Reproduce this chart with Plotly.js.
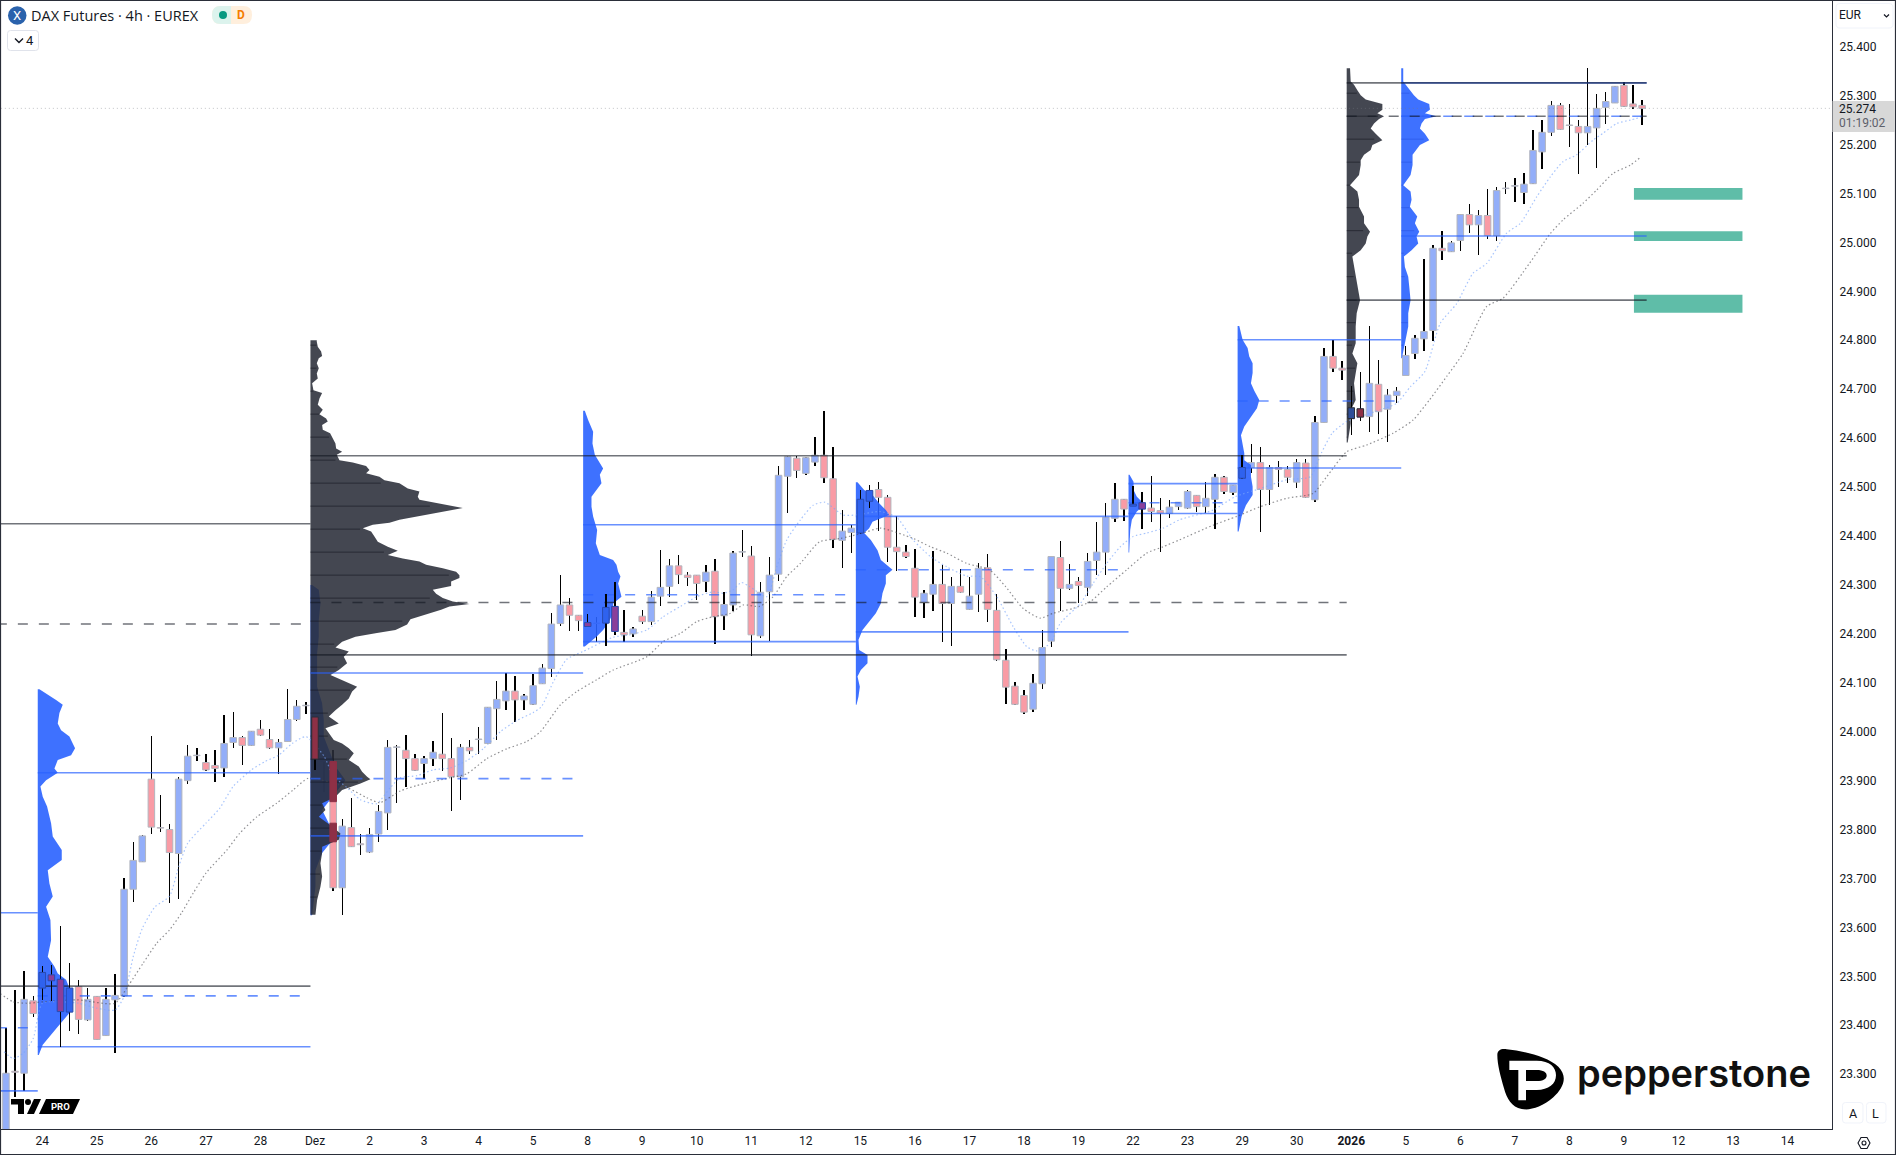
<!DOCTYPE html>
<html><head><meta charset="utf-8">
<script src="https://cdn.plot.ly/plotly-3.0.1.min.js"></script>
<style>html,body{margin:0;padding:0;background:#fff;overflow:hidden}</style>
</head><body><div id="chart" style="width:1896px;height:1155px"></div>
<script>
// ---- candles (first bar index = -4, 6 bars per day) ----
const firstBar = -4;
const opens = [23170,23306,23302,23450,
23476,23503,23494,23427,23479,23411,23459,23379,23452,23460,
23678,23734,23903,23804,23800,23751,23900,23951,23937,23931,
23926,23978,23988,23972,24005,23984,23967,23980,24025,24053,
24030,23941,23939,23681,23804,23771,23754,23791,23834,23968,
23962,23945,23935,23945,23954,23945,23908,23968,23984,23976,
24047,24063,24083,24065,24056,24098,24129,24221,24259,24238,
24223,24222,24222,24256,24203,24200,24236,24225,24277,24297,
24339,24320,24320,24307,24328,24237,24259,24367,24359,24196,
24286,24322,24522,24559,24528,24551,24565,24517,24391,24407,
24406,24471,24495,24479,24377,24367,24334,24264,24281,24301,
24262,24297,24250,24281,24335,24248,24146,24093,24074,24046,
24098,24185,24356,24293,24307,24295,24350,24367,24436,24475,
24461,24468,24457,24452,24446,24460,24457,24483,24460,24475,
24520,24489,24518,24540,24550,24495,24540,24536,24510,24549,
24474,24632,24767,24743,24640,24660,24644,24710,24659,24687,
24728,24773,24803,24820,24988,24981,25004,25057,25036,25055,
25014,25110,25115,25102,25120,25185,25225,25280,25240,25237,
25224,25234,25276,25285,25321,25283,25280];
const highs = [23395,23472,23511,23460,
23521,23523,23603,23527,23493,23476,23459,23476,23505,23700,
23774,23789,23991,23871,23811,23907,23973,23967,23954,23963,
24034,24040,23991,24001,24024,24005,23986,24087,24065,24061,
24031,23942,23962,23822,23865,23791,23804,23851,23983,23972,
23994,23954,23950,23980,24038,23987,23975,23983,24010,24051,
24104,24121,24114,24078,24117,24138,24242,24320,24274,24238,
24241,24234,24282,24305,24249,24213,24249,24287,24371,24353,
24361,24326,24320,24341,24353,24285,24369,24412,24380,24305,
24357,24543,24564,24564,24561,24602,24656,24582,24453,24423,
24493,24504,24510,24484,24440,24382,24373,24290,24369,24341,
24317,24332,24317,24344,24363,24281,24170,24101,24085,24118,
24208,24358,24390,24343,24317,24365,24429,24468,24509,24475,
24502,24489,24523,24477,24474,24469,24494,24483,24510,24527,
24523,24504,24566,24589,24581,24545,24553,24543,24557,24557,
24645,24784,24801,24757,24707,24736,24829,24760,24700,24704,
24788,24811,24967,24995,25023,25002,25059,25078,25066,25109,
25113,25123,25132,25142,25230,25250,25289,25284,25283,25250,
25356,25303,25307,25319,25328,25322,25292];
const lows = [23160,23254,23266,23416,
23452,23450,23356,23389,23382,23409,23370,23378,23343,23457,
23651,23734,23791,23794,23649,23659,23893,23941,23920,23898,
23908,23967,23932,23971,23991,23964,23914,23979,24021,24036,
23922,23877,23674,23626,23764,23748,23753,23775,23799,23854,
23886,23919,23904,23929,23920,23838,23861,23954,23954,23975,
23984,24044,24019,24044,24055,24097,24111,24216,24205,24206,
24215,24184,24176,24198,24184,24194,24220,24218,24256,24276,
24302,24297,24269,24285,24180,24208,24246,24358,24155,24192,
24185,24308,24447,24519,24525,24543,24508,24376,24335,24365,
24404,24458,24411,24346,24329,24356,24235,24233,24247,24184,
24176,24283,24249,24245,24225,24145,24057,24055,24036,24041,
24088,24174,24247,24290,24264,24277,24320,24320,24429,24431,
24461,24415,24429,24368,24437,24453,24455,24449,24446,24415,
24486,24484,24517,24528,24409,24464,24501,24508,24498,24478,
24470,24630,24735,24718,24606,24634,24613,24608,24593,24672,
24728,24762,24778,24799,24964,24980,24983,25020,24974,25008,
25002,25099,25083,25079,25119,25150,25217,25230,25196,25140,
25199,25152,25243,25284,25277,25273,25239];
const closes = [23302,23304,23453,23424,
23508,23491,23428,23476,23412,23453,23371,23453,23461,23678,
23737,23787,23805,23803,23753,23903,23950,23952,23922,23925,
23976,23988,23972,24001,23993,23967,23978,24025,24052,24054,
23944,23939,23681,23807,23765,23769,23790,23837,23968,23969,
23945,23921,23945,23958,23945,23908,23968,23961,23985,24050,
24066,24083,24065,24073,24094,24130,24220,24259,24238,24227,
24215,24221,24254,24205,24198,24210,24225,24275,24295,24339,
24321,24315,24303,24326,24235,24260,24365,24368,24198,24285,
24320,24524,24562,24534,24560,24565,24519,24393,24410,24416,
24475,24493,24479,24377,24368,24358,24275,24283,24301,24262,
24297,24285,24277,24334,24250,24147,24091,24056,24040,24099,
24172,24358,24293,24301,24299,24348,24367,24438,24475,24455,
24465,24455,24450,24447,24459,24469,24491,24460,24477,24520,
24491,24504,24540,24550,24495,24540,24536,24520,24550,24479,
24632,24767,24743,24739,24662,24643,24712,24654,24688,24696,
24769,24804,24818,24988,24983,24999,25057,25036,25055,25014,
25106,25111,25116,25119,25188,25225,25280,25231,25239,25224,
25237,25274,25288,25319,25278,25277,25274];
const lastPrice = 25274;

// ---- moving averages (bar index, price as read) ----
const fastBars = [-4.2,-3.2,-2.1,-1,0,2,4,6,8,9,10,11,12.4,14,15,16,18,19.5,21,23,24.5,26,27.5,29,31,32,33.5,35,36.8,38.3,39.4,41.2,43,44.9,46.7,48.5,50.4,52.2,54,54.9,56.2,57.7,59.5,62.8,64.6,66.5,68.3,70.2,72,73.8,74.9,76,76.9,77.8,79.7,80.8,81.9,83.4,84.8,86.1,88.1,89.6,92.2,94,95.8,97.7,99.5,101.7,103.2,105,106.8,108.3,109.4,110.9,112,114.2,115.6,117.1,118.6,120,121.5,123.3,125.1,128.8,131.2,134,136.9,139.5,140.7,141.9,143.5,145,147.2,149,150.5,152.1,153.8,155.6,157.4,158.9,161.1,162.6,164.4,165.9,167.3,168.8,170.6,171.7,173.2,174.7,175.9];
const fastEma = [23346,23332,23343,23373,23445,23448,23445,23435,23431,23459,23540,23598,23642,23664,23724,23772,23813,23843,23888,23922,23939,23952,23976,23990,23950,23910,23886,23861,23853,23886,23906,23910,23922,23926,23941,23965,24000,24023,24039,24051,24101,24148,24164,24193,24198,24208,24235,24256,24276,24286,24283,24290,24305,24297,24276,24337,24392,24433,24463,24469,24443,24443,24450,24438,24392,24358,24337,24318,24317,24276,24215,24174,24165,24181,24222,24262,24303,24344,24378,24399,24406,24416,24433,24453,24480,24497,24515,24521,24569,24610,24634,24644,24658,24671,24705,24736,24835,24875,24937,24957,25019,25039,25093,25134,25165,25179,25209,25223,25243,25250,25256];
const slowBars = [-4.66,-3.2,-1.7,0.1,3.8,8,9.5,11.1,12.6,14,15.3,16.6,18,20.3,21.7,23.6,25.8,27.6,29.3,33.5,35.7,37.1,39.4,41.2,44.9,46.7,48.9,51.1,53.3,54.8,57,58.8,60.97,62.8,66.5,68.3,70.2,72,73.8,75.7,77.1,78.9,80.4,81.9,83.4,85.5,87.8,90.3,92.2,95.8,97.7,99.5,101.7,104.2,106,107.9,109.8,111.2,113.4,115.3,117.1,119.3,121.5,123.3,125.1,128.8,131.4,134,136.9,139.8,141.3,143.5,145.7,148.6,150.8,152.6,154.5,156.3,158.9,160.7,163.6,165.9,167.3,169.5,171,172.8,174.7,175.9];
const slowEma = [23465,23448,23445,23448,23452,23445,23482,23527,23568,23595,23629,23670,23711,23758,23792,23826,23854,23881,23905,23886,23865,23855,23879,23890,23906,23914,23945,23965,23980,24000,24055,24082,24106,24126,24153,24184,24201,24225,24235,24242,24259,24256,24276,24317,24344,24388,24395,24406,24416,24395,24378,24365,24344,24331,24296,24252,24232,24242,24252,24266,24296,24331,24365,24378,24392,24422,24440,24460,24477,24487,24521,24572,24586,24610,24637,24678,24726,24773,24869,24886,24957,25018,25046,25080,25107,25141,25158,25175];

// ---- volume profiles: price levels + traded volume ----
const p1Start = -0.5;
const p1Prices = [24087,24065,24055,24038,24017,24003,23990,23976,23966,23952,23942,23925,23916,23901,23888,23867,23847,23813,23786,23758,23738,23717,23690,23663,23642,23615,23574,23540,23520,23506,23493,23459,23425,23397,23377,23360,23339];
const p1Vol = [5,55,75,65,60,70,95,105,112,100,60,50,60,25,8,15,28,40,45,72,72,30,35,45,25,38,40,30,50,60,85,105,95,60,35,15,3];
const p2Start = 29.5;
const p2Prices = [24800,24797,24787,24777,24768,24763,24753,24743,24732,24722,24712,24698,24692,24681,24668,24658,24649,24640,24634,24627,24617,24610,24600,24589,24579,24572,24566,24555,24550,24543,24535,24528,24521,24514,24508,24497,24491,24480,24474,24467,24461,24457,24452,24446,24440,24433,24427,24423,24416,24409,24399,24388,24378,24370,24361,24354,24348,24341,24334,24327,24320,24314,24307,24298,24290,24282,24273,24266,24261,24256,24249,24240,24230,24219,24208,24201,24194,24184,24172,24164,24153,24140,24126,24116,24102,24092,24082,24068,24055,24044,24031,24017,24007,23997,23983,23976,23966,23956,23942,23929,23918,23908,23903,23894,23881,23867,23854,23840,23826,23806,23792,23779,23765,23752,23731,23704,23683,23656,23626];
const p2Vol = [19,19,22,32,35,25,19,25,19,22,5,9,35,27,22,37,27,47,52,35,37,59,67,75,77,95,79,87,127,167,177,167,207,222,267,292,327,322,327,377,422,457,417,367,317,267,237,187,157,182,192,202,232,262,232,277,327,347,397,437,447,447,422,422,367,377,397,427,477,417,392,350,300,290,255,195,135,95,75,115,100,110,85,60,105,140,125,115,95,75,55,85,45,55,70,95,115,130,115,145,155,170,180,150,95,75,35,45,25,65,90,85,35,35,30,35,30,20,15];
const p2bPrices = [24300,24290,24262,24228,24194,24160,24126,24092,24058,24024,23990,23963,23929,23901,23867,23840,23813,23786,23752,23717,23683,23625];
const p2bVol = [5,25,30,25,25,20,20,20,35,40,40,55,75,105,65,35,55,75,35,15,15,5];
const p3Start = 59.5;
const p3Prices = [24656,24637,24613,24589,24566,24549,24538,24525,24508,24480,24460,24440,24412,24385,24361,24351,24341,24327,24317,24303,24290,24276,24262,24242,24222,24208,24194,24174];
const p3Vol = [5,15,30,28,35,50,60,50,55,25,25,30,42,38,50,90,100,105,112,105,110,115,90,90,75,60,40,5];
const p4Start = 89.5;
const p4Prices = [24510,24494,24484,24467,24453,24443,24429,24416,24406,24392,24371,24351,24331,24320,24303,24283,24262,24242,24225,24208,24188,24167,24157,24140,24126,24113,24092,24072,24055];
const p4Vol = [5,25,50,70,90,100,50,40,25,45,65,75,110,90,90,80,75,60,40,20,8,10,35,35,15,5,12,8,2];
const p5Start = 119.5;
const p5Prices = [24525,24511,24494,24480,24470,24462,24450,24433,24412,24366];
const p5Vol = [3,15,15,25,40,45,25,10,5,2];
const p6Start = 131.5;
const p6Prices = [24829,24801,24784,24767,24753,24733,24712,24697,24678,24661,24644,24624,24606,24589,24569,24555,24545,24521,24501,24484,24463,24440,24409];
const p6Vol = [5,15,30,35,45,45,40,50,65,58,40,20,10,15,20,20,40,40,45,45,25,12,3];
const p7Start = 143.5;
const p7Prices = [25356,25329,25322,25311,25301,25292,25283,25271,25264,25258,25252,25243,25233,25222,25209,25199,25189,25179,25168,25158,25138,25117,25104,25087,25073,25053,25039,25022,25012,24998,24984,24971,24950,24930,24910,24882,24855,24828,24794,24773,24753,24732,24712,24678,24657,24630,24606,24591];
const p7Vol = [10,12,22,32,42,57,107,107,92,112,97,82,72,87,107,77,72,52,42,42,37,10,32,37,37,52,52,70,62,57,42,17,22,27,32,40,30,27,27,17,32,27,22,27,12,12,7,3];
const p8Start = 149.5;
const p8Prices = [25356,25329,25322,25311,25301,25292,25283,25271,25264,25258,25252,25243,25233,25222,25209,25199,25189,25179,25168,25158,25138,25117,25104,25087,25073,25053,25039,25022,25012,24998,24984,24971,24950,24930,24910,24882,24855,24828,24794,24773,24763];
const p8Vol = [6,6,14,26,38,51,84,86,71,106,71,61,56,71,84,56,46,34,34,34,28,6,28,31,26,48,41,54,46,51,31,8,11,21,24,28,21,21,11,6,2];
// row marks inside the profiles
const rowMarks = [23662,23709,23756,23803,23850,23897,23944,23991,24038,24085,24132,24179,24226,24273,24320,24367,24414,24461,24508,24555,24602,24649,24696,24743,24790,24836,24882,24930,24978,25024,25071,25117,25164,25211,25258,25305];

// ---- horizontal levels: [startBar, endBar, price] ----
const blueSolid = [[-5,-0.5,23630],[-5,-0.5,23266],[-0.5,29.5,23916],[-0.5,29.5,23356],[29.5,59.5,24120],[29.5,59.5,23787],
  [59.5,89.5,24423],[59.5,89.5,24184],[89.5,119.5,24440],[89.5,119.5,24204],[119.5,131.5,24507],[119.5,131.5,24446],
  [131.5,149.5,24801],[131.5,149.5,24539],[149.5,176.5,25326],[149.5,176.5,25013]];
const blueDashed = [[-5,-0.5,23395],[-0.5,29.5,23460],[29.5,59.5,23904],[59.5,89.5,24280],[89.5,119.5,24331],[119.5,131.5,24468],[131.5,149.5,24676],[149.5,176.5,25258]];
const darkSolid = [[-5,29.5,24425],[-5,29.5,23480],[29.5,143.5,24564],[29.5,143.5,24157],[143.5,176.5,25326],[143.5,176.5,24882]];
const darkDashed = [[-5,29.5,24220],[29.5,143.5,24264],[143.5,176.5,25258]];

// ---- target zones ----
const zoneStart = 175.1, zoneEnd = 187.04;
const zoneTops = [25111,25023,24893];
const zoneBottoms = [25087,25003,24856];

// ---- axis labels ----
const priceTicks = [23300,23400,23500,23600,23700,23800,23900,24000,24100,24200,24300,24400,24500,24600,24700,24800,24900,25000,25100,25200,25300,25400];
const priceLabels = priceTicks.map(p => (p/1000).toFixed(3));
const dayTicks = [0,6,12,18,24,30,36,42,48,54,60,66,72,78,84,90,96,102,108,114,120,126,132,138,144,150,156,162,168,174,180,186,192];
const dayLabels = ['24','25','26','27','28','Dez','2','3','4','5','8','9','10','11','12','15','16','17','18','19','22','23','29','30','<b>2026</b>','5','6','7','8','9','12','13','14'];

// candles seen through the profiles
const overlayBlueBars = [0,1,2,3,60,62,63,90,91,120,121,132];
const overlayDarkBars = [30,144,145];
const overlaySplit = [[32,23857,23939],[32,23775,23813]];

// ---- geometry helpers ----
const W = 1896, H = 1155, ml = 1, mr = 64, mt = 1, mb = 26;
const PW = W-ml-mr, PH = H-mt-mb;
const px = x => (x-ml)/PW, py = y => 1-(y-mt)/PH;
const pt = (x,y) => px(x).toFixed(5)+','+py(y).toFixed(5);
function rr(x0,y0,x1,y1,r){ return 'M'+pt(x0+r,y0)+' L'+pt(x1-r,y0)+' Q'+pt(x1,y0)+' '+pt(x1,y0+r)+' L'+pt(x1,y1-r)+' Q'+pt(x1,y1)+' '+pt(x1-r,y1)+' L'+pt(x0+r,y1)+' Q'+pt(x0,y1)+' '+pt(x0,y1-r)+' L'+pt(x0,y0+r)+' Q'+pt(x0,y0)+' '+pt(x0+r,y0)+' Z'; }
function pathShape(path,fill,line,lw){ return {type:'path',xref:'paper',yref:'paper',path,fillcolor:fill||'rgba(0,0,0,0)',line:{color:line||'rgba(0,0,0,0)',width:lw||0},layer:'above'}; }
const zx = z => 1470+z/3, zy = z => 1020+z/3;
const zp = (a,b) => pt(zx(a),zy(b));

const bars = opens.map((_,k)=>k+firstBar);
const BLUE='#93AEF9', RED='#F99BA5', EDGE='#B2B5BE';
const traces = [];
traces.push({type:'bar',x:bars,y:highs.map((h,k)=>h-lows[k]),base:lows,width:0.15,marker:{color:'#000',line:{width:0}},hoverinfo:'skip'});
traces.push({type:'bar',x:bars,y:closes.map((c,k)=>Math.max(Math.abs(c-opens[k]),0.5)),base:closes.map((c,k)=>Math.min(c,opens[k])),width:0.72,
  marker:{color:closes.map((c,k)=>c>=opens[k]?BLUE:RED),line:{color:EDGE,width:1}},hoverinfo:'skip'});
const volScale = 1/27.27;
function profile(start,prices,vol,color){
  const xs=[start],ys=[prices[0]];
  prices.forEach((p,k)=>{xs.push(start+vol[k]*volScale);ys.push(p);});
  xs.push(start);ys.push(prices[prices.length-1]);
  return {type:'scatter',mode:'lines',x:xs,y:ys,fill:'toself',fillcolor:color,line:{width:0},hoverinfo:'skip'};
}
function rows(start,prices,vol,color){
  const xs=[],ys=[];
  rowMarks.forEach(m=>{
    if(m>=prices[0]||m<=prices[prices.length-1])return;
    const k=prices.findIndex(p=>p<=m);
    const v=Math.min(vol[k],vol[k-1])*0.95;
    xs.push(start,start+v*volScale,null);ys.push(m,m,null);
  });
  return {type:'scatter',mode:'lines',x:xs,y:ys,line:{color,width:0.8},hoverinfo:'skip'};
}
const PBLUE='rgba(41,98,255,0.9)', PDARK='rgba(42,46,57,0.88)', RBLUE='rgba(30,70,215,0.5)', RDARK='rgba(18,20,28,0.7)';
traces.push(profile(p1Start,p1Prices,p1Vol,PBLUE));
traces.push(profile(p2Start,p2bPrices,p2bVol,PBLUE));
traces.push(profile(p2Start,p2Prices,p2Vol,PDARK));
traces.push(rows(p2Start,p2Prices,p2Vol,RDARK));
traces.push(profile(p3Start,p3Prices,p3Vol,PBLUE));
traces.push(profile(p4Start,p4Prices,p4Vol,PBLUE));
traces.push(profile(p5Start,p5Prices,p5Vol,PBLUE));
traces.push(profile(p7Start,p7Prices,p7Vol,PDARK));
traces.push(rows(p7Start,p7Prices,p7Vol,RDARK));
traces.push(profile(p6Start,p6Prices,p6Vol,PBLUE));
traces.push(profile(p8Start,p8Prices,p8Vol,PBLUE));
traces.push(rows(p8Start,p8Prices,p8Vol,RBLUE));
traces.push({type:'scatter',mode:'lines',x:slowBars,y:slowEma,line:{color:'rgba(70,70,75,0.6)',width:1.2,dash:'1.5px,2.5px',shape:'spline',smoothing:0.6},hoverinfo:'skip'});
traces.push({type:'scatter',mode:'lines',x:fastBars,y:fastEma,line:{color:'rgba(120,165,250,0.65)',width:1.2,dash:'1.5px,2.5px',shape:'spline',smoothing:0.6},hoverinfo:'skip'});
function levels(list,color,dash){
  const xs=[],ys=[];
  list.forEach(l=>{xs.push(l[0],l[1],null);ys.push(l[2],l[2],null);});
  return {type:'scatter',mode:'lines',x:xs,y:ys,line:{color,width:1.6,dash},connectgaps:false,hoverinfo:'skip'};
}
traces.push(levels(blueSolid,'rgba(41,98,255,0.7)','solid'));
traces.push(levels(blueDashed,'rgba(41,98,255,0.7)','10px,11px'));
traces.push(levels(darkSolid,'rgba(19,23,34,0.6)','solid'));
traces.push(levels(darkDashed,'rgba(19,23,34,0.6)','10px,11px'));
traces.push({type:'scatter',mode:'lines',x:[-5,197],y:[lastPrice,lastPrice],line:{color:'rgba(120,123,134,0.45)',width:1,dash:'1px,3px'},hoverinfo:'skip'});
function overlayBars(idx,upCol,downCol,edge){
  const k=idx.map(i=>i-firstBar);
  return [
   {type:'bar',xaxis:'x2',yaxis:'y2',x:idx,y:k.map(j=>highs[j]-lows[j]),base:k.map(j=>lows[j]),width:0.15,marker:{color:'#000',line:{width:0}},hoverinfo:'skip'},
   {type:'bar',xaxis:'x2',yaxis:'y2',x:idx,y:k.map(j=>Math.abs(closes[j]-opens[j])),base:k.map(j=>Math.min(closes[j],opens[j])),width:0.72,
    marker:{color:k.map(j=>closes[j]>=opens[j]?upCol:downCol),line:{color:edge,width:1}},hoverinfo:'skip'}];
}
traces.push(...overlayBars(overlayBlueBars,'#2F62EE','#8A3F9A','#2a4bb0'));
traces.push(...overlayBars(overlayDarkBars,'#2E4E98','#8E3046','#2b2f3a'));
traces.push({type:'bar',xaxis:'x2',yaxis:'y2',x:overlaySplit.map(s=>s[0]),y:overlaySplit.map(s=>s[2]-s[1]),base:overlaySplit.map(s=>s[1]),width:0.72,marker:{color:'#8E3046',line:{color:'#8E3046',width:1}},hoverinfo:'skip'});

// ---- shapes ----
const shapes = [];
zoneTops.forEach((t,k)=>shapes.push({type:'rect',xref:'x',yref:'y',x0:zoneStart,x1:zoneEnd,y0:zoneBottoms[k],y1:t,fillcolor:'#5FBDA8',line:{width:0},layer:'below'}));
shapes.push({type:'rect',xref:'paper',yref:'paper',x0:px(0.5),x1:px(W-0.5),y0:py(H-0.5),y1:py(0.5),line:{color:'#2a2e39',width:1.2},fillcolor:'rgba(0,0,0,0)',layer:'above'});
shapes.push({type:'circle',xref:'paper',yref:'paper',x0:px(8),x1:px(26.5),y0:py(24.7),y1:py(6.2),fillcolor:'#2A62AC',line:{width:0},layer:'above'});
shapes.push(pathShape(rr(212,6,252,24,8.5),'#FFEFDD'));
shapes.push(pathShape('M'+pt(231,6)+' L'+pt(220.5,6)+' Q'+pt(212,6)+' '+pt(212,15)+' Q'+pt(212,24)+' '+pt(220.5,24)+' L'+pt(231,24)+' Z','#DCF3ED'));
shapes.push({type:'circle',xref:'paper',yref:'paper',x0:px(219),x1:px(227),y0:py(19),y1:py(11),fillcolor:'#089981',line:{width:0},layer:'above'});
shapes.push(pathShape(rr(7.5,30.5,38.5,50.5,3),'#fff','#E0E3EB',1));
shapes.push(pathShape('M'+pt(15,38.5)+' L'+pt(19,42.5)+' L'+pt(23,38.5),null,'#131722',1.4));
shapes.push(pathShape(rr(1836,3.5,1893,28,4),'#fff','#F0F3FA',1));
shapes.push(pathShape('M'+pt(1884,14.5)+' L'+pt(1886.5,17)+' L'+pt(1889,14.5),null,'#131722',1.2));
shapes.push({type:'rect',xref:'paper',yref:'paper',x0:px(1832.5),x1:px(1895),y0:py(132),y1:py(101),fillcolor:'#D8D8D8',line:{width:0},layer:'above'});
shapes.push(pathShape(rr(1842.5,1102.5,1863,1123,3),'#fff','#F0F3FA',1));
shapes.push(pathShape(rr(1866.5,1102.5,1886,1123,3),'#fff','#F0F3FA',1));
shapes.push(pathShape('M'+pt(1858,1143)+' L'+pt(1861,1137.5)+' L'+pt(1867,1137.5)+' L'+pt(1870,1143)+' L'+pt(1867,1148.5)+' L'+pt(1861,1148.5)+' Z',null,'#131722',1.1));
shapes.push({type:'circle',xref:'paper',yref:'paper',x0:px(1862),x1:px(1866),y0:py(1145),y1:py(1141),line:{color:'#131722',width:1.1},layer:'above'});
shapes.push(pathShape('M'+pt(11,1099)+' L'+pt(24,1099)+' L'+pt(24,1114)+' L'+pt(18,1114)+' L'+pt(18,1104.5)+' L'+pt(11,1104.5)+' Z','#000'));
shapes.push({type:'circle',xref:'paper',yref:'paper',x0:px(25),x1:px(31),y0:py(1105),y1:py(1099),fillcolor:'#000',line:{width:0},layer:'above'});
shapes.push(pathShape('M'+pt(34,1099)+' L'+pt(41,1099)+' L'+pt(34,1114)+' L'+pt(27,1114)+' Z','#000'));
shapes.push(pathShape('M'+pt(46,1099)+' L'+pt(80,1099)+' L'+pt(73,1114)+' L'+pt(39,1114)+' Z','#000'));
shapes.push(pathShape('M'+zp(82,105)+' C'+zp(82,90)+' '+zp(95,85)+' '+zp(110,88)+' C'+zp(170,95)+' '+zp(230,110)+' '+zp(265,140)+' C'+zp(295,170)+' '+zp(280,205)+' '+zp(250,232)+' C'+zp(215,262)+' '+zp(180,272)+' '+zp(155,267)+' C'+zp(125,262)+' '+zp(110,235)+' '+zp(102,205)+' C'+zp(92,170)+' '+zp(82,135)+' '+zp(82,105)+' Z','#000'));
shapes.push(pathShape('M'+zp(118,122)+' L'+zp(200,122)+' C'+zp(240,122)+' '+zp(258,142)+' '+zp(258,166)+' C'+zp(258,192)+' '+zp(236,210)+' '+zp(200,210)+' L'+zp(168,210)+' L'+zp(168,241)+' L'+zp(145,241)+' L'+zp(145,150)+' L'+zp(118,150)+' Z','#fff'));
shapes.push(pathShape('M'+zp(168,150)+' L'+zp(200,150)+' C'+zp(220,150)+' '+zp(230,157)+' '+zp(230,167)+' C'+zp(230,176)+' '+zp(220,183)+' '+zp(200,183)+' L'+zp(168,183)+' Z','#000'));

// ---- annotations ----
function note(text,x,y,size,color,anchor,extra){
  return Object.assign({text,xref:'paper',yref:'paper',x:px(x),y:py(y),showarrow:false,xanchor:anchor||'left',yanchor:'middle',
    font:{family:'Roboto, "Liberation Sans", sans-serif',size,color},borderpad:0},extra||{});
}
const annotations = [
  note('DAX Futures · 4h · EUREX',30,15,14.5,'#131722','left',{font:{family:'"Open Sans", Roboto',size:14.5,color:'#131722'}}),
  note('X',17.2,15.5,13,'#ffffff','center'),
  note('D',241,15,12,'#F57C00','center',{font:{family:'Roboto',size:12,color:'#F57C00',weight:700}}),
  note('4',30,40.5,13,'#131722','center'),
  note('EUR',1838.5,15,12,'#131722'),
  note('25.274',1838.5,109.5,12,'#131722'),
  note('01:19:02',1838.5,123,12,'#5d606b'),
  note('A',1852.5,1113,12.5,'#131722','center'),
  note('L',1876,1113,12.5,'#131722','center'),
  note('PRO',60,1106.5,9.5,'#ffffff','center',{font:{family:'Roboto',size:9.5,color:'#fff',weight:700}}),
  note('pepperstone',1576,1073,38,'#111111','left',{font:{family:'Inter, Roboto',size:38,color:'#111',weight:600}})
];

const xr=[-4.543,196.89], yr=[23188,25493.4];
Plotly.newPlot('chart',traces,{
  width:W,height:H,margin:{l:ml,r:mr,t:mt,b:mb,pad:0},
  paper_bgcolor:'#fff',plot_bgcolor:'#fff',showlegend:false,barmode:'overlay',bargap:0,dragmode:false,
  font:{family:'Roboto, "Liberation Sans", sans-serif',size:12,color:'#131722'},
  xaxis:{range:xr,tickmode:'array',tickvals:dayTicks,ticktext:dayLabels,ticks:'',showgrid:false,zeroline:false,showline:true,linecolor:'#2a2e39',linewidth:1.2,mirror:true,tickfont:{size:12,color:'#131722'},fixedrange:true},
  yaxis:{range:yr,side:'right',tickmode:'array',tickvals:priceTicks,ticktext:priceLabels,ticks:'',showgrid:false,zeroline:false,showline:true,linecolor:'#2a2e39',linewidth:1.2,mirror:true,tickfont:{size:12,color:'#131722'},fixedrange:true,ticklabelstandoff:4},
  xaxis2:{overlaying:'x',range:xr,visible:false,fixedrange:true},
  yaxis2:{overlaying:'y',range:yr,visible:false,fixedrange:true,side:'right'},
  shapes,annotations
},{displayModeBar:false,staticPlot:true});
</script></body></html>
